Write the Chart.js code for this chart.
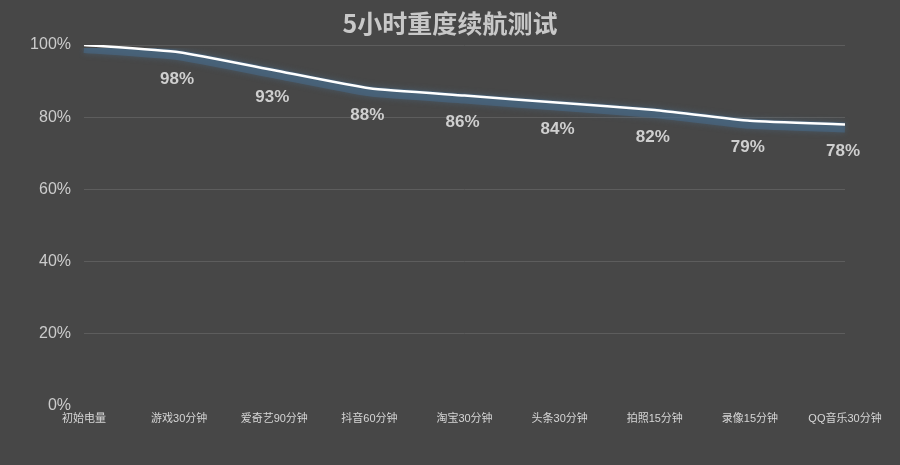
<!DOCTYPE html>
<html>
<head>
<meta charset="utf-8">
<script src="https://cdn.jsdelivr.net/npm/chart.js@4/dist/chart.umd.min.js"></script>
<style>
html,body{margin:0;padding:0;background:#474747;}
#wrap{width:900px;height:465px;position:relative;}
</style>
</head>
<body>
<div id="wrap"><canvas id="c"></canvas></div>
<script>
const categories = ['初始电量','游戏30分钟','爱奇艺90分钟','抖音60分钟','淘宝30分钟','头条30分钟','拍照15分钟','录像15分钟','QQ音乐30分钟'];
const batteryValues = [100, 98, 93, 88, 86, 84, 82, 79, 78];
const yTickValues = [0, 20, 40, 60, 80, 100];
const titleText = '5小时重度续航测试';

const FONT = '"Liberation Sans", "Noto Sans CJK SC", sans-serif';

const bgPlugin = {
  id: 'bg',
  beforeDraw(chart) {
    const ctx = chart.ctx;
    ctx.save();
    ctx.fillStyle = '#474747';
    ctx.fillRect(0, 0, chart.width, chart.height);
    ctx.restore();
  }
};

const glowPlugin = {
  id: 'glow',
  beforeDatasetDraw(chart, args) {
    const ctx = chart.ctx;
    ctx.save();
    if (args.index === 1) {
      ctx.translate(0, 3);
      ctx.shadowColor = 'rgba(75,110,140,0.8)';
      ctx.shadowBlur = 6;
    }
  },
  afterDatasetDraw(chart) {
    chart.ctx.restore();
  }
};

const labelPlugin = {
  id: 'valueLabels',
  afterDatasetsDraw(chart) {
    const ctx = chart.ctx;
    const meta = chart.getDatasetMeta(0);
    ctx.save();
    ctx.font = '600 17px ' + FONT;
    ctx.fillStyle = '#cfcfcf';
    ctx.textAlign = 'center';
    ctx.textBaseline = 'middle';
    meta.data.forEach((pt, i) => {
      if (i === 0) return;
      ctx.fillText(batteryValues[i] + '%', pt.x - 2, pt.y + 27);
    });
    ctx.restore();
  }
};

new Chart(document.getElementById('c'), {
  type: 'line',
  data: {
    labels: categories,
    datasets: [{
      data: batteryValues,
      borderColor: '#ffffff',
      borderWidth: 2.5,
      tension: 0.15,
      pointRadius: 0,
      fill: false,
      order: 0
    }, {
      data: batteryValues,
      borderColor: 'rgba(72,105,135,0.6)',
      borderWidth: 10,
      tension: 0.15,
      pointRadius: 0,
      fill: false,
      order: 1
    }]
  },
  options: {
    responsive: true,
    maintainAspectRatio: false,
    animation: false,
    devicePixelRatio: 1,
    layout: { padding: 0 },
    plugins: {
      legend: { display: false },
      tooltip: { enabled: false },
      title: {
        display: true,
        text: titleText,
        color: '#c8c8c8',
        font: { family: '"Noto Sans CJK SC", sans-serif', size: 25, weight: 'bold' },
        padding: { top: 8, bottom: 7 }
      }
    },
    scales: {
      x: {
        offset: false,
        grid: { display: false, drawTicks: false },
        border: { display: false },
        ticks: {
          color: '#d6d6d6',
          font: { family: FONT, size: 11 },
          maxRotation: 0,
          minRotation: 0,
          autoSkip: false,
          padding: 6
        },
        afterFit(s) { s.height = 59; }
      },
      y: {
        min: 0,
        max: 100,
        afterBuildTicks(s) { s.ticks = yTickValues.map(v => ({ value: v })); },
        grid: {
          color: ctx => ctx.tick && ctx.tick.value === 0 ? 'rgba(0,0,0,0)' : '#5d5d5d',
          lineWidth: 1,
          drawTicks: false
        },
        border: { display: false },
        ticks: {
          color: '#cccccc',
          font: { family: FONT, size: 16, weight: '500' },
          padding: 13,
          callback: v => v + '%'
        },
        afterFit(s) { s.width = 84; }
      },
      yRight: {
        position: 'right',
        display: true,
        min: 0,
        max: 100,
        grid: { display: false, drawTicks: false },
        border: { display: false },
        ticks: { display: false },
        afterFit(s) { s.width = 55; }
      }
    }
  },
  plugins: [bgPlugin, glowPlugin, labelPlugin]
});
</script>
</body>
</html>
